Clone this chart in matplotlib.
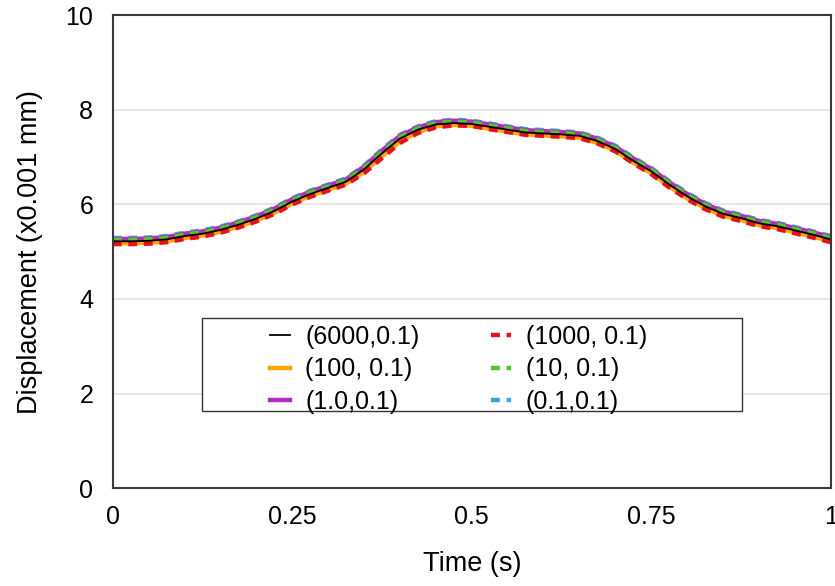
import numpy as np
import matplotlib.pyplot as plt
from matplotlib.patches import Rectangle

plt.rcParams['font.family'] = ['Liberation Sans', 'DejaVu Sans']

# sampled every 0.025 s
time = np.linspace(0, 1, 41)

d_6000 = [5.22, 5.22, 5.23, 5.26, 5.33, 5.38, 5.46, 5.57, 5.70, 5.86, 6.06, 6.22, 6.35, 6.48,
          6.74, 7.08, 7.39, 7.58, 7.69, 7.72, 7.70, 7.64, 7.58, 7.52, 7.50, 7.48, 7.45, 7.34,
          7.17, 6.92, 6.70, 6.42, 6.17, 5.96, 5.80, 5.71, 5.60, 5.54, 5.45, 5.36, 5.26]
d_1000 = [5.16, 5.16, 5.17, 5.20, 5.27, 5.32, 5.40, 5.51, 5.64, 5.80, 6.00, 6.16, 6.29, 6.42,
          6.66, 6.98, 7.30, 7.51, 7.63, 7.67, 7.66, 7.59, 7.53, 7.47, 7.45, 7.43, 7.40, 7.29,
          7.12, 6.87, 6.64, 6.36, 6.11, 5.90, 5.74, 5.65, 5.54, 5.48, 5.39, 5.30, 5.20]
d_100 = [5.18, 5.18, 5.19, 5.22, 5.29, 5.34, 5.42, 5.53, 5.66, 5.82, 6.02, 6.18, 6.31, 6.44,
         6.69, 7.02, 7.33, 7.53, 7.65, 7.68, 7.66, 7.60, 7.54, 7.48, 7.46, 7.44, 7.41, 7.30,
         7.13, 6.88, 6.66, 6.38, 6.13, 5.92, 5.76, 5.67, 5.56, 5.50, 5.41, 5.32, 5.22]
d_10 = [5.25, 5.25, 5.26, 5.29, 5.36, 5.41, 5.49, 5.60, 5.73, 5.89, 6.09, 6.25, 6.38, 6.51,
        6.77, 7.11, 7.42, 7.61, 7.72, 7.75, 7.73, 7.67, 7.61, 7.55, 7.53, 7.51, 7.48, 7.37,
        7.20, 6.95, 6.73, 6.45, 6.20, 5.99, 5.83, 5.74, 5.63, 5.57, 5.48, 5.39, 5.29]
d_1 = [5.27, 5.27, 5.28, 5.31, 5.38, 5.43, 5.51, 5.62, 5.75, 5.91, 6.11, 6.27, 6.40, 6.53,
       6.80, 7.14, 7.45, 7.63, 7.74, 7.77, 7.75, 7.69, 7.63, 7.57, 7.55, 7.53, 7.50, 7.39,
       7.22, 6.97, 6.75, 6.47, 6.22, 6.01, 5.85, 5.76, 5.65, 5.59, 5.50, 5.41, 5.31]
d_01 = [5.29, 5.29, 5.30, 5.33, 5.40, 5.45, 5.53, 5.64, 5.77, 5.93, 6.13, 6.29, 6.42, 6.55,
        6.82, 7.16, 7.47, 7.65, 7.76, 7.79, 7.77, 7.71, 7.65, 7.59, 7.57, 7.55, 7.52, 7.41,
        7.24, 6.99, 6.77, 6.49, 6.24, 6.03, 5.87, 5.78, 5.67, 5.61, 5.52, 5.43, 5.33]

fig, ax = plt.subplots(figsize=(8.35, 5.86), dpi=100)
fig.subplots_adjust(left=0.135, right=0.995, bottom=0.167, top=0.974)

# back to front, black on top
l_01, = ax.plot(time, d_01, color='#35a7e0', lw=3.2, dashes=(2, 1.5), label='(0.1,0.1)')
l_1, = ax.plot(time, d_1, color='#b22fc4', lw=3.2, label='(1.0,0.1)')
l_10, = ax.plot(time, d_10, color='#4fc81f', lw=3.2, dashes=(2, 1.5), label='(10, 0.1)')
l_100, = ax.plot(time, d_100, color='#ffa500', lw=3.2, label='(100, 0.1)')
l_1000, = ax.plot(time, d_1000, color='#e8101a', lw=3.2, dashes=(2, 1.5), label='(1000, 0.1)')
l_6000, = ax.plot(time, d_6000, color='black', lw=1.3, label='(6000,0.1)')

ax.set_xlim(0, 1)
ax.set_ylim(0, 10)
ax.set_xticks([0, 0.25, 0.5, 0.75, 1])
ax.set_xticklabels(['0', '0.25', '0.5', '0.75', '1'])
ax.set_yticks([0, 2, 4, 6, 8, 10])
ax.tick_params(length=0, labelsize=18, pad=12)
ax.tick_params(axis='y', pad=14)
ax.yaxis.grid(True, color='#e3e3e3', lw=1.2)
ax.set_axisbelow(True)
for s in ax.spines.values():
    s.set_color('#3a3a3a')
    s.set_linewidth(1.5)

ax.set_xlabel('Time (s)', fontsize=19.5, labelpad=16)
ax.set_ylabel('Displacement (x0.001 mm)', fontsize=19.5, labelpad=16)

# legend box drawn separately, entries centred inside it
ax.add_patch(Rectangle((0.125, 0.163), 0.751, 0.197, transform=ax.transAxes,
                       facecolor='white', edgecolor='#333333', lw=1.0, zorder=4))
leg = ax.legend(handles=[l_6000, l_100, l_1, l_1000, l_10, l_01], ncol=2,
                loc='center', bbox_to_anchor=(0.482, 0.251), frameon=False,
                fontsize=18, handlelength=0.8, handletextpad=0.6,
                columnspacing=2.85, labelspacing=0.33, borderpad=0)
leg.set_zorder(5)

fig.savefig('out.png', dpi=100)
